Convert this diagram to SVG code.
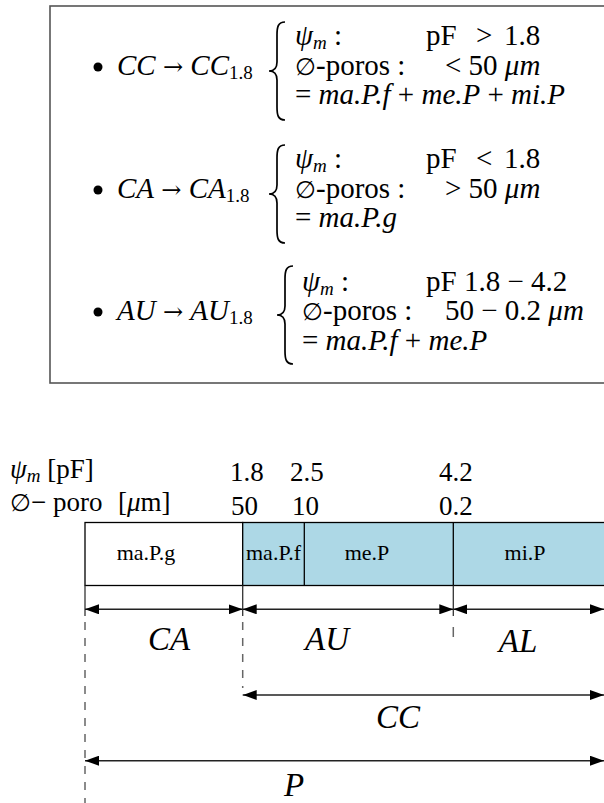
<svg xmlns="http://www.w3.org/2000/svg" width="604" height="803" viewBox="0 0 604 803">
<style>
text{font-family:"Liberation Serif","Times New Roman",serif;fill:#000}
.t{font-size:29px}
.i{font-style:italic}
.s{font-size:19px}
.h{font-size:27px}
.b{font-size:22px;text-anchor:middle}
.L{font-size:33px;font-style:italic;text-anchor:middle}
.e{font-family:"DejaVu Serif",serif;font-size:24px}
.a{font-family:"DejaVu Serif",serif;font-size:24px}
.br{fill:none;stroke:#000;stroke-width:1.7}
.ar{stroke:#222;stroke-width:1.5;fill:none}
.dash{stroke:#666;stroke-width:1.5;stroke-dasharray:8,8;fill:none}
.tick{stroke:#333;stroke-width:1.3}
</style>
<defs>
<marker id="ah" viewBox="0 0 14 10" refX="14" refY="5" markerWidth="14" markerHeight="10" markerUnits="userSpaceOnUse" orient="auto-start-reverse">
<path d="M0,0 L14,5 L0,10 Z" fill="#000"/>
</marker>
</defs>
<rect x="50" y="6" width="600" height="377" fill="#fff" stroke="#555" stroke-width="1.6"/>

<g id="def-cc">
<circle cx="98" cy="67" r="4.5" fill="#000"/>
<text class="t" x="117" y="75"><tspan class="i">CC</tspan> <tspan class="a">→</tspan> <tspan class="i">CC</tspan><tspan class="s" dy="4">1.8</tspan></text>
<path class="br" d="M285,22 C278,22 277,27 277,35 L277,62 C277,68 274,71 269,71 C274,71 277,74 277,80 L277,107 C277,115 278,120 285,120"/>
<text class="t" x="295" y="45"><tspan class="i">ψ</tspan><tspan class="i s" dy="4">m</tspan><tspan dy="-4"> :</tspan></text>
<text class="t" x="426" y="45">pF</text><text class="t" x="476" y="45">&gt;</text><text class="t" x="504" y="45">1.8</text>
<text class="t" x="295" y="75"><tspan class="e">∅</tspan>-poros :</text>
<text class="t" x="445" y="75">&lt; 50 <tspan class="i">μm</tspan></text>
<text class="t" x="295" y="104">= <tspan class="i">ma.P.f</tspan> + <tspan class="i">me.P</tspan> + <tspan class="i">mi.P</tspan></text>
</g>

<g id="def-ca">
<circle cx="98" cy="190" r="4.5" fill="#000"/>
<text class="t" x="117" y="198"><tspan class="i">CA</tspan> <tspan class="a">→</tspan> <tspan class="i">CA</tspan><tspan class="s" dy="4">1.8</tspan></text>
<path class="br" d="M285,145 C278,145 277,150 277,158 L277,185 C277,191 274,194 269,194 C274,194 277,197 277,203 L277,230 C277,238 278,243 285,243"/>
<text class="t" x="295" y="168"><tspan class="i">ψ</tspan><tspan class="i s" dy="4">m</tspan><tspan dy="-4"> :</tspan></text>
<text class="t" x="426" y="168">pF</text><text class="t" x="476" y="168">&lt;</text><text class="t" x="504" y="168">1.8</text>
<text class="t" x="295" y="198"><tspan class="e">∅</tspan>-poros :</text>
<text class="t" x="445" y="198">&gt; 50 <tspan class="i">μm</tspan></text>
<text class="t" x="295" y="227">= <tspan class="i">ma.P.g</tspan></text>
</g>

<g id="def-au">
<circle cx="98" cy="312" r="4.5" fill="#000"/>
<text class="t" x="117" y="320"><tspan class="i">AU</tspan> <tspan class="a">→</tspan> <tspan class="i">AU</tspan><tspan class="s" dy="4">1.8</tspan></text>
<path class="br" d="M293,266 C286,266 285,271 285,279 L285,306 C285,312 282,315 277,315 C282,315 285,318 285,324 L285,351 C285,359 286,364 293,364"/>
<text class="t" x="302" y="291"><tspan class="i">ψ</tspan><tspan class="i s" dy="4">m</tspan><tspan dy="-4"> :</tspan></text>
<text class="t" x="426" y="291">pF 1.8 − 4.2</text>
<text class="t" x="302" y="320"><tspan class="e">∅</tspan>-poros :</text>
<text class="t" x="445" y="320">50 − 0.2 <tspan class="i">μm</tspan></text>
<text class="t" x="302" y="350">= <tspan class="i">ma.P.f</tspan> + <tspan class="i">me.P</tspan></text>
</g>

<g id="header">
<text class="h" x="10" y="478"><tspan class="i">ψ</tspan><tspan class="i" font-size="19" dy="4">m</tspan><tspan dy="-4"> [pF]</tspan></text>
<text class="h" x="10" y="511"><tspan class="e">∅</tspan>− poro</text>
<text class="h" x="118" y="511">[<tspan class="i">μ</tspan>m]</text>
<text class="h" x="230" y="481">1.8</text>
<text class="h" x="290" y="481">2.5</text>
<text class="h" x="439" y="481">4.2</text>
<text class="h" x="231" y="515">50</text>
<text class="h" x="292" y="515">10</text>
<text class="h" x="439" y="515">0.2</text>
</g>

<g id="bar">
<rect x="85" y="522.5" width="157.7" height="63" fill="#fff" stroke="#000" stroke-width="1.3"/>
<rect x="242.7" y="522.5" width="380" height="63" fill="#add8e6" stroke="#000" stroke-width="1.3"/>
<line x1="304.3" y1="522.5" x2="304.3" y2="585.5" stroke="#000" stroke-width="1.3"/>
<line x1="453.3" y1="522.5" x2="453.3" y2="585.5" stroke="#000" stroke-width="1.3"/>
<text class="b" x="146" y="560">ma.P.g</text>
<text class="b" x="273.5" y="560">ma.P.f</text>
<text class="b" x="367" y="560">me.P</text>
<text class="b" x="525" y="560">mi.P</text>
</g>

<g id="connectors">
<line class="tick" x1="85" y1="585.5" x2="85" y2="616"/>
<line class="tick" x1="242.7" y1="585.5" x2="242.7" y2="616"/>
<line class="tick" x1="453.3" y1="585.5" x2="453.3" y2="616"/>
<line class="dash" x1="85" y1="622" x2="85" y2="803"/>
<line class="dash" x1="242.7" y1="622" x2="242.7" y2="688"/>
<line class="dash" x1="453.3" y1="627" x2="453.3" y2="637" style="stroke-dasharray:none"/>
<line class="ar" x1="85" y1="609.3" x2="242.7" y2="609.3" marker-start="url(#ah)" marker-end="url(#ah)"/>
<line class="ar" x1="242.7" y1="609.3" x2="453.3" y2="609.3" marker-start="url(#ah)" marker-end="url(#ah)"/>
<line class="ar" x1="453.3" y1="609.3" x2="604" y2="609.3" marker-start="url(#ah)" marker-end="url(#ah)"/>
<line class="ar" x1="242.7" y1="695" x2="604" y2="695" marker-start="url(#ah)" marker-end="url(#ah)"/>
<line class="ar" x1="85" y1="760.7" x2="604" y2="760.7" marker-start="url(#ah)" marker-end="url(#ah)"/>
</g>

<g id="labels">
<text class="L" x="169" y="650">CA</text>
<text class="L" x="327" y="650">AU</text>
<text class="L" x="518" y="652">AL</text>
<text class="L" x="398" y="728">CC</text>
<text class="L" x="294" y="796">P</text>
</g>
</svg>
